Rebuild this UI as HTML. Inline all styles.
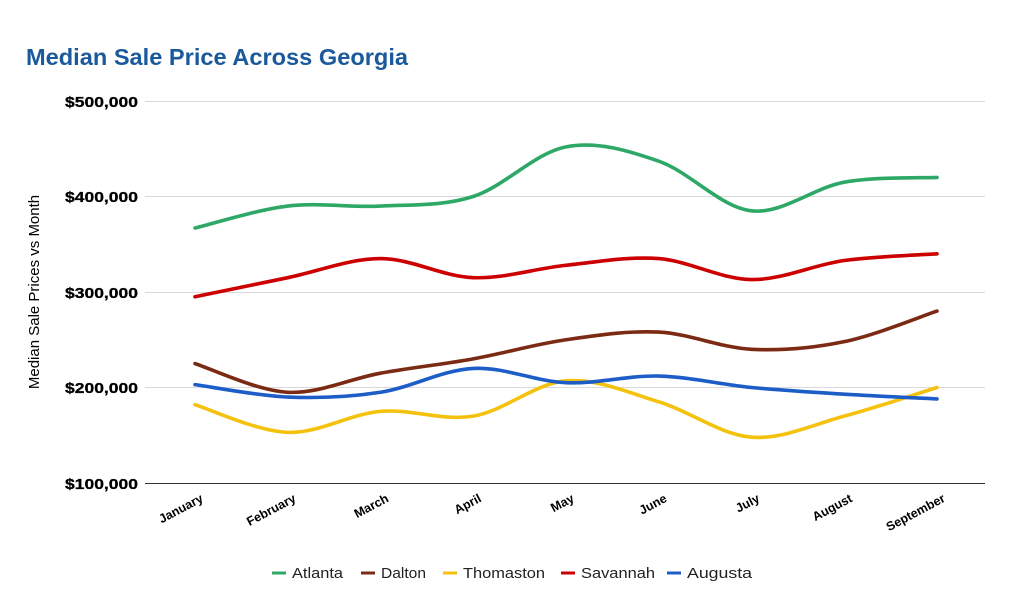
<!DOCTYPE html>
<html><head><meta charset="utf-8"><style>
body{margin:0;background:#fff;width:1024px;height:603px;overflow:hidden}
svg{font-family:"Liberation Sans",Arial,sans-serif}
</style></head><body>
<svg id="c" width="1024" height="603" xmlns="http://www.w3.org/2000/svg">
<text x="26" y="65" font-size="23" font-weight="bold" fill="#1a5a9c" textLength="382" lengthAdjust="spacingAndGlyphs">Median Sale Price Across Georgia</text>
<g stroke="#d9d9d9" stroke-width="1">
<line x1="145" x2="985" y1="101.5" y2="101.5"/>
<line x1="145" x2="985" y1="196.5" y2="196.5"/>
<line x1="145" x2="985" y1="292.5" y2="292.5"/>
<line x1="145" x2="985" y1="387.5" y2="387.5"/>
</g>
<line x1="145" x2="985" y1="483.5" y2="483.5" stroke="#333" stroke-width="1"/>
<g font-size="15" font-weight="bold" fill="#000" stroke="#000" stroke-width="0.3">
<text x="65" y="107" textLength="73" lengthAdjust="spacingAndGlyphs">$500,000</text>
<text x="65" y="202" textLength="73" lengthAdjust="spacingAndGlyphs">$400,000</text>
<text x="65" y="298" textLength="73" lengthAdjust="spacingAndGlyphs">$300,000</text>
<text x="65" y="393" textLength="73" lengthAdjust="spacingAndGlyphs">$200,000</text>
<text x="65" y="489" textLength="73" lengthAdjust="spacingAndGlyphs">$100,000</text>
</g>
<text transform="translate(39,292) rotate(-90)" font-size="15" text-anchor="middle" fill="#000">Median Sale Prices vs Month</text>
<g id="xl" font-size="12.5" font-weight="bold" text-anchor="end" fill="#000"></g>
<g id="lines" fill="none" stroke-width="3.6" stroke-linecap="round"></g>
<g font-size="15" fill="#222">
<line x1="272" x2="286" y1="573" y2="573" stroke="#2ea866" stroke-width="3"/><text x="292" y="578" textLength="51" lengthAdjust="spacingAndGlyphs">Atlanta</text>
<line x1="361" x2="375" y1="573" y2="573" stroke="#7b2a14" stroke-width="3"/><text x="381" y="578" textLength="45" lengthAdjust="spacingAndGlyphs">Dalton</text>
<line x1="443" x2="457" y1="573" y2="573" stroke="#f4c20d" stroke-width="3"/><text x="463" y="578" textLength="82" lengthAdjust="spacingAndGlyphs">Thomaston</text>
<line x1="561" x2="575" y1="573" y2="573" stroke="#cc0000" stroke-width="3"/><text x="581" y="578" textLength="74" lengthAdjust="spacingAndGlyphs">Savannah</text>
<line x1="667" x2="681" y1="573" y2="573" stroke="#1c5dc8" stroke-width="3"/><text x="687" y="578" textLength="65" lengthAdjust="spacingAndGlyphs">Augusta</text>
</g>
</svg>
<script>
var months=["January","February","March","April","May","June","July","August","September"];
var X=i=>195+i*92.75, Y=v=>483-(v-100)*0.955;
var xl=document.getElementById("xl");
months.forEach((m,i)=>{var t=document.createElementNS("http://www.w3.org/2000/svg","text");
t.setAttribute("transform","translate("+(X(i)+9)+",501) rotate(-28)");t.textContent=m;xl.appendChild(t);});
var series=[
["#2ea866",[367,390,390,400,452,437,385,415,420]],
["#cc0000",[295,315,335,315,328,335,313,333,340]],
["#7b2a14",[225,195,215,230,250,258,240,248,280]],
["#f4c20d",[182,153,175,170,207,185,148,170,200]],
["#1c5dc8",[203,190,195,220,205,212,200,193,188]]];
var g=document.getElementById("lines");
series.forEach(s=>{var p=s[1].map((v,i)=>[X(i),Y(v)]);var d="M"+p[0];
for(var i=0;i<p.length-1;i++){var p0=p[Math.max(0,i-1)],p1=p[i],p2=p[i+1],p3=p[Math.min(p.length-1,i+2)];
var c1=[p1[0]+(p2[0]-p0[0])/6,p1[1]+(p2[1]-p0[1])/6],c2=[p2[0]-(p3[0]-p1[0])/6,p2[1]-(p3[1]-p1[1])/6];
d+=" C"+c1+" "+c2+" "+p2;}
var e=document.createElementNS("http://www.w3.org/2000/svg","path");e.setAttribute("d",d);e.setAttribute("stroke",s[0]);g.appendChild(e);});
</script>
</body></html>
